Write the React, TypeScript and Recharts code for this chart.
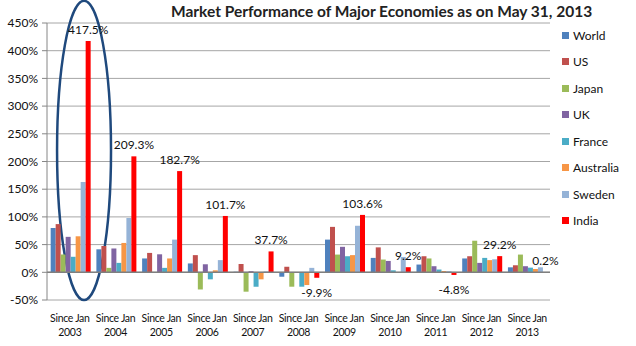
import React from "react";
import {
  BarChart,
  Bar,
  XAxis,
  YAxis,
  CartesianGrid,
  Legend,
  LabelList,
  ReferenceLine,
  ReferenceArea,
} from "recharts";

const years = ["2003", "2004", "2005", "2006", "2007", "2008", "2009", "2010", "2011", "2012", "2013"];
const world = [80, 41.5, 25, 16, 1, -8, 59, 26, 14, 25, 9];
const us = [87, 47.5, 35, 31, 15, 10, 82, 45, 29, 29, 12.7];
const japan = [32, 8, 0.5, -31, -35, -26, 32, 23, 25, 57, 32];
const uk = [64, 43, 32.5, 14.5, 2, 0.5, 46, 20.5, 11, 17, 11];
const france = [28, 17, 8, -12.7, -26, -26, 29, 3.6, 5, 26, 8.4];
const australia = [65, 53, 25, 3.6, -12.7, -23, 31, 0.5, 2.4, 22, 6];
const sweden = [163, 98, 59, 22, 1.5, 8, 84, 27.7, 2, 23.5, 9];
const india = [417.5, 209.3, 182.7, 101.7, 37.7, -9.9, 103.6, 9.2, -4.8, 29.2, 0.2];
const yTicks = [-50, 0, 50, 100, 150, 200, 250, 300, 350, 400, 450];

const series = [
  { key: "world", name: "World", color: "#4F81BD" },
  { key: "us", name: "US", color: "#C0504D" },
  { key: "japan", name: "Japan", color: "#9BBB59" },
  { key: "uk", name: "UK", color: "#8064A2" },
  { key: "france", name: "France", color: "#4BACC6" },
  { key: "australia", name: "Australia", color: "#F79646" },
  { key: "sweden", name: "Sweden", color: "#95B3D7" },
  { key: "india", name: "India", color: "#FF0000" },
];

const data = years.map((year, i) => ({
  year,
  world: world[i],
  us: us[i],
  japan: japan[i],
  uk: uk[i],
  france: france[i],
  australia: australia[i],
  sweden: sweden[i],
  india: india[i],
}));

const FONT = "Lato, 'Liberation Sans', sans-serif";

function YearTick({ x, y, payload }: any) {
  const style = { fontSize: 10.5, fill: "#111", fontFamily: FONT, letterSpacing: -0.3 };
  return (
    <g>
      <text x={x} y={y + 22} textAnchor="middle" style={style}>
        Since Jan
      </text>
      <text x={x} y={y + 36} textAnchor="middle" style={style}>
        {payload.value}
      </text>
    </g>
  );
}

function IndiaLabel({ x, y, width, height, value }: any) {
  const top = Math.min(y, y + height);
  const bottom = Math.max(y, y + height);
  const cx = x + width / 2;
  const ly = value >= 0 ? top - 7 : bottom + 19;
  return (
    <text x={cx} y={ly} textAnchor="middle" fontSize={12} fill="#111" fontFamily={FONT}>
      {`${value}%`}
    </text>
  );
}

function LegendList() {
  return (
    <div style={{ fontFamily: FONT, fontSize: 12, color: "#111" }}>
      {series.map((s) => (
        <div key={s.key} style={{ height: 26.5, display: "flex", alignItems: "center" }}>
          <span style={{ width: 7, height: 7, background: s.color, marginRight: 4, display: "inline-block" }} />
          {s.name}
        </div>
      ))}
    </div>
  );
}

function Ellipse({ x, y, width, height }: any) {
  return (
    <ellipse
      cx={x + width * 0.81}
      cy={y + height / 2}
      rx={width * 0.59}
      ry={height / 2}
      fill="none"
      stroke="#1F497D"
      strokeWidth={2.5}
    />
  );
}

export default function App() {
  return (
    <div style={{ position: "absolute", left: 0, top: 0, width: 636, height: 346, background: "#fff" }}>
      <div
        style={{
          position: "absolute",
          left: 171,
          top: 2,
          width: 400,
          textAlign: "center",
          fontFamily: FONT,
          fontWeight: 700,
          fontSize: 15.5,
          color: "#222",
          whiteSpace: "nowrap",
        }}
      >
        Market Performance of Major Economies as on May 31, 2013
      </div>
      <BarChart
        width={636}
        height={346}
        data={data}
        margin={{ top: 23, right: 86, bottom: 6, left: 7 }}
        barCategoryGap="8%"
        barGap={0}
      >
        <CartesianGrid vertical={false} stroke="#a6a6a6" />
        <XAxis
          dataKey="year"
          interval={0}
          axisLine={false}
          tickLine={false}
          tickSize={0}
          tickMargin={0}
          height={40}
          tick={<YearTick />}
        />
        <YAxis
          width={40}
          domain={[-50, 450]}
          ticks={yTicks}
          interval={0}
          tickFormatter={(v) => `${v}%`}
          tick={{ fontSize: 12, fill: "#111", fontFamily: FONT }}
          axisLine={{ stroke: "#868686" }}
          tickLine={{ stroke: "#868686" }}
          tickSize={5}
          tickMargin={4}
        />
        <ReferenceLine y={0} stroke="#7f7f7f" strokeWidth={1.5} />
        {series.map((s) => (
          <Bar key={s.key} dataKey={s.key} name={s.name} fill={s.color} isAnimationActive={false}>
            {s.key === "india" && <LabelList dataKey="india" content={<IndiaLabel />} />}
          </Bar>
        ))}
        <ReferenceArea
          x1="2003"
          x2="2003"
          y1={-50}
          y2={490}
          ifOverflow="visible"
          shape={<Ellipse />}
        />
        <Legend
          layout="vertical"
          align="center"
          verticalAlign="middle"
          wrapperStyle={{ left: 562, top: 22, width: 74 }}
          content={<LegendList />}
        />
      </BarChart>
    </div>
  );
}
